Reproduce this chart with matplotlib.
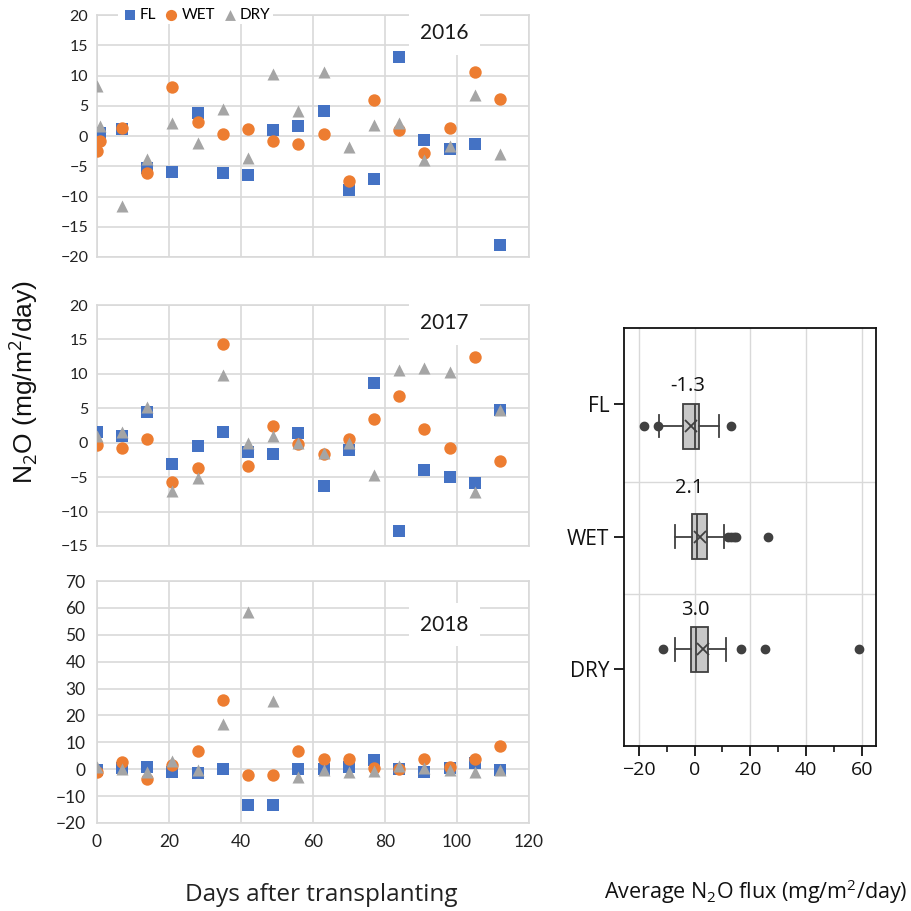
import matplotlib
matplotlib.use('Agg')
import matplotlib.pyplot as plt
import numpy as np

# days after transplanting
days = [0, 7, 14, 21, 28, 35, 42, 49, 56, 63, 70, 77, 84, 91, 98, 105, 112]
days_2016 = [0, 1] + days[1:]

# 2016 (two readings around day 0)
fl_2016 = [0.3, 0.5, 1.2, -5.3, -6.0, 3.8, -6.1, -6.5, 1.0, 1.7, 4.2, -8.9, -7.1, 13.0, -0.7, -2.2, -1.3, -18.1]
wet_2016 = [-2.4, -0.9, 1.4, -6.1, 8.1, 2.3, 0.4, 1.1, -0.8, -1.3, 0.3, -7.4, 6.0, 1.0, -2.8, 1.35, 10.5, 6.2]
dry_2016 = [8.3, 1.7, -11.5, -3.8, 2.1, -1.2, 4.4, -3.7, 10.3, 4.2, 10.5, -1.8, 1.8, 2.2, -3.9, -1.7, 6.8, -2.9]

# 2017
fl_2017 = [1.5, 1.0, 4.4, -3.1, -0.5, 1.6, -1.4, -1.7, 1.4, -6.3, -1.0, 8.6, -12.8, -3.9, -5.0, -5.8, 4.7]
wet_2017 = [-0.3, -0.8, 0.5, -5.7, -3.7, 14.4, -3.4, 2.4, -0.2, -1.7, 0.5, 3.4, 6.8, 2.0, -0.8, 12.4, -2.7]
dry_2017 = [0.9, 1.6, 5.2, -7.0, -5.2, 9.8, 0.0, 1.0, -0.1, -1.5, -0.1, -4.7, 10.6, 10.8, 10.3, -7.1, 4.8]

# 2018
fl_2018 = [-0.2, 0.4, 1.0, -0.9, -1.4, 0.1, -13.4, -13.4, 0.1, 0.1, 0.7, 3.5, 0.2, -1.0, 0.4, 2.5, -0.2]
wet_2018 = [-1.2, 2.8, -3.5, 1.7, 6.9, 25.8, -2.0, -2.0, 6.9, 3.8, 3.8, 0.4, 0.1, 3.8, 1.0, 3.9, 8.8]
dry_2018 = [1.0, 0.0, -0.9, 2.9, -0.2, 16.8, 58.6, 25.2, -2.9, -0.4, -1.0, -0.5, 1.3, 0.4, -0.2, -0.9, -0.2]

# box plot summary of average flux
treatments = ['FL', 'WET', 'DRY']
box_q1 = [-4.3, -0.9, -1.45]
box_med = [0.1, 0.7, 0.45]
box_q3 = [1.6, 4.3, 4.7]
box_lo = [-12.8, -7.1, -7.1]
box_hi = [8.8, 10.6, 11.1]
box_mean = [-1.3, 2.1, 3.0]
box_fliers = [[-18.1, -13.3, 13.2], [12.0, 13.0, 14.0, 14.8, 26.2], [-11.4, 16.8, 25.2, 59.0]]

c_fl, c_wet, c_dry = '#4472C4', '#ED7D31', '#A5A5A5'
grid_c = '#D9D9D9'
box_font = ['Open Sans', 'DejaVu Sans']

plt.rcParams['font.family'] = ['Lato', 'DejaVu Sans']
plt.rcParams['mathtext.fontset'] = 'custom'
plt.rcParams['mathtext.rm'] = 'Open Sans'

fig = plt.figure(figsize=(9.12, 9.11), dpi=100)

panels = [
    ('2016', [0.106, 0.7179, 0.474, 0.2656], days_2016, fl_2016, wet_2016, dry_2016, (-20, 20), 5),
    ('2017', [0.106, 0.4007, 0.474, 0.2645], days, fl_2017, wet_2017, dry_2017, (-15, 20), 5),
    ('2018', [0.106, 0.0966, 0.474, 0.2656], days, fl_2018, wet_2018, dry_2018, (-20, 70), 10),
]

for i, (year, rect, xd, fl, wet, dry, ylim, ystep) in enumerate(panels):
    ax = fig.add_axes(rect)
    ax.scatter(xd, fl, marker='s', s=70, color=c_fl, label='FL', zorder=3, linewidths=0)
    ax.scatter(xd, wet, marker='o', s=80, color=c_wet, label='WET', zorder=3, linewidths=0)
    ax.scatter(xd, dry, marker='^', s=75, color=c_dry, label='DRY', zorder=3, linewidths=0)
    ax.set_xlim(0, 120)
    ax.set_ylim(*ylim)
    ax.set_xticks(np.arange(0, 121, 20))
    ax.set_yticks(np.arange(ylim[0], ylim[1] + 1, ystep))
    ax.grid(True, color=grid_c, linewidth=1.2, zorder=0)
    ax.set_axisbelow(True)
    for sp in ax.spines.values():
        sp.set_color(grid_c)
        sp.set_linewidth(1.2)
    ax.tick_params(length=0, labelsize=11.5, colors='#222222', pad=6)
    if i < 2:
        ax.tick_params(labelbottom=False)
    else:
        ax.tick_params(labelsize=12.5, pad=8)
    ax.text(0.805, 0.925 if i < 2 else 0.82, year, transform=ax.transAxes,
            ha='center', va='center', fontsize=15, color='#1a1a1a',
            bbox=dict(boxstyle='square,pad=0.55', fc='white', ec='none'), zorder=5)
    if i == 0:
        leg = ax.legend(loc='center left', bbox_to_anchor=(0.05, 1.0), ncol=3,
                        frameon=True, fontsize=11, handletextpad=0.05,
                        columnspacing=0.4, borderpad=0.15, handlelength=1.2,
                        borderaxespad=0, markerscale=0.9)
        leg.get_frame().set_facecolor('white')
        leg.get_frame().set_edgecolor('none')
        leg.get_frame().set_alpha(1)
        leg.set_zorder(6)

fig.text(0.026, 1 - 382 / 911, r'N$_2$O (mg/m$^2$/day)', rotation=90,
         ha='center', va='center', fontsize=19, color='#111111',
         family=['Liberation Sans', 'DejaVu Sans'])
fig.text(321 / 912, 1 - 895 / 911, 'Days after transplanting', ha='center',
         va='center', fontsize=17.5, color='#222222', family=box_font)

# box plot panel
bx = fig.add_axes([0.684, 0.1811, 0.2763, 0.4588])
box_pos = [0.166, 1.0, 1.85]
stats = []
for k in range(3):
    stats.append(dict(q1=box_q1[k], med=box_med[k], q3=box_q3[k],
                      whislo=box_lo[k], whishi=box_hi[k], mean=box_mean[k],
                      fliers=box_fliers[k], label=treatments[k]))
bx.bxp(stats, positions=box_pos, widths=0.34, orientation='horizontal',
       patch_artist=True, showmeans=True,
       boxprops=dict(facecolor='#C8C8C8', edgecolor='#404040', linewidth=1.3),
       medianprops=dict(color='#404040', linewidth=1.3),
       whiskerprops=dict(color='#404040', linewidth=1.3),
       capprops=dict(color='#404040', linewidth=1.3),
       capwidths=0.17,
       meanprops=dict(marker='x', markeredgecolor='#404040', markersize=9, markeredgewidth=1.3),
       flierprops=dict(marker='o', markerfacecolor='#404040', markeredgecolor='#404040', markersize=6))
bx.set_xlim(-25.4, 65)
bx.set_ylim(2.58, -0.574)
bx.set_yticks([0, 1, 2])
bx.set_yticklabels(treatments, fontsize=15, family=box_font)
bx.set_xticks([-20, 0, 20, 40, 60])
bx.set_xticklabels(['\u221220', '0', '20', '40', '60'], fontsize=14, family=box_font)
bx.set_xticks([-10, 10, 30, 50], minor=True)
bx.grid(True, axis='x', which='major', color=grid_c, linewidth=1.0)
bx.set_axisbelow(True)
for yline in [0.59, 1.43]:
    bx.axhline(yline, color=grid_c, linewidth=1.0, zorder=0)
for sp in bx.spines.values():
    sp.set_color('#111111')
    sp.set_linewidth(1.3)
bx.tick_params(axis='both', which='major', length=7, width=1.3, colors='#111111')
bx.tick_params(axis='x', which='minor', length=4, width=1.1)
label_x = [-2.4, -2.1, 0.1]
for k in range(3):
    bx.text(label_x[k], box_pos[k] - 0.3 - (0.07 if k == 1 else 0), '%.1f' % box_mean[k],
            ha='center', va='center', fontsize=14.5, color='#111111', family=box_font)
fig.text(756 / 912, 1 - 892 / 911, r'Average N$_2$O flux (mg/m$^2$/day)', ha='center',
         va='center', fontsize=15.5, color='#111111', family=box_font)

fig.savefig('out.png', dpi=100)
